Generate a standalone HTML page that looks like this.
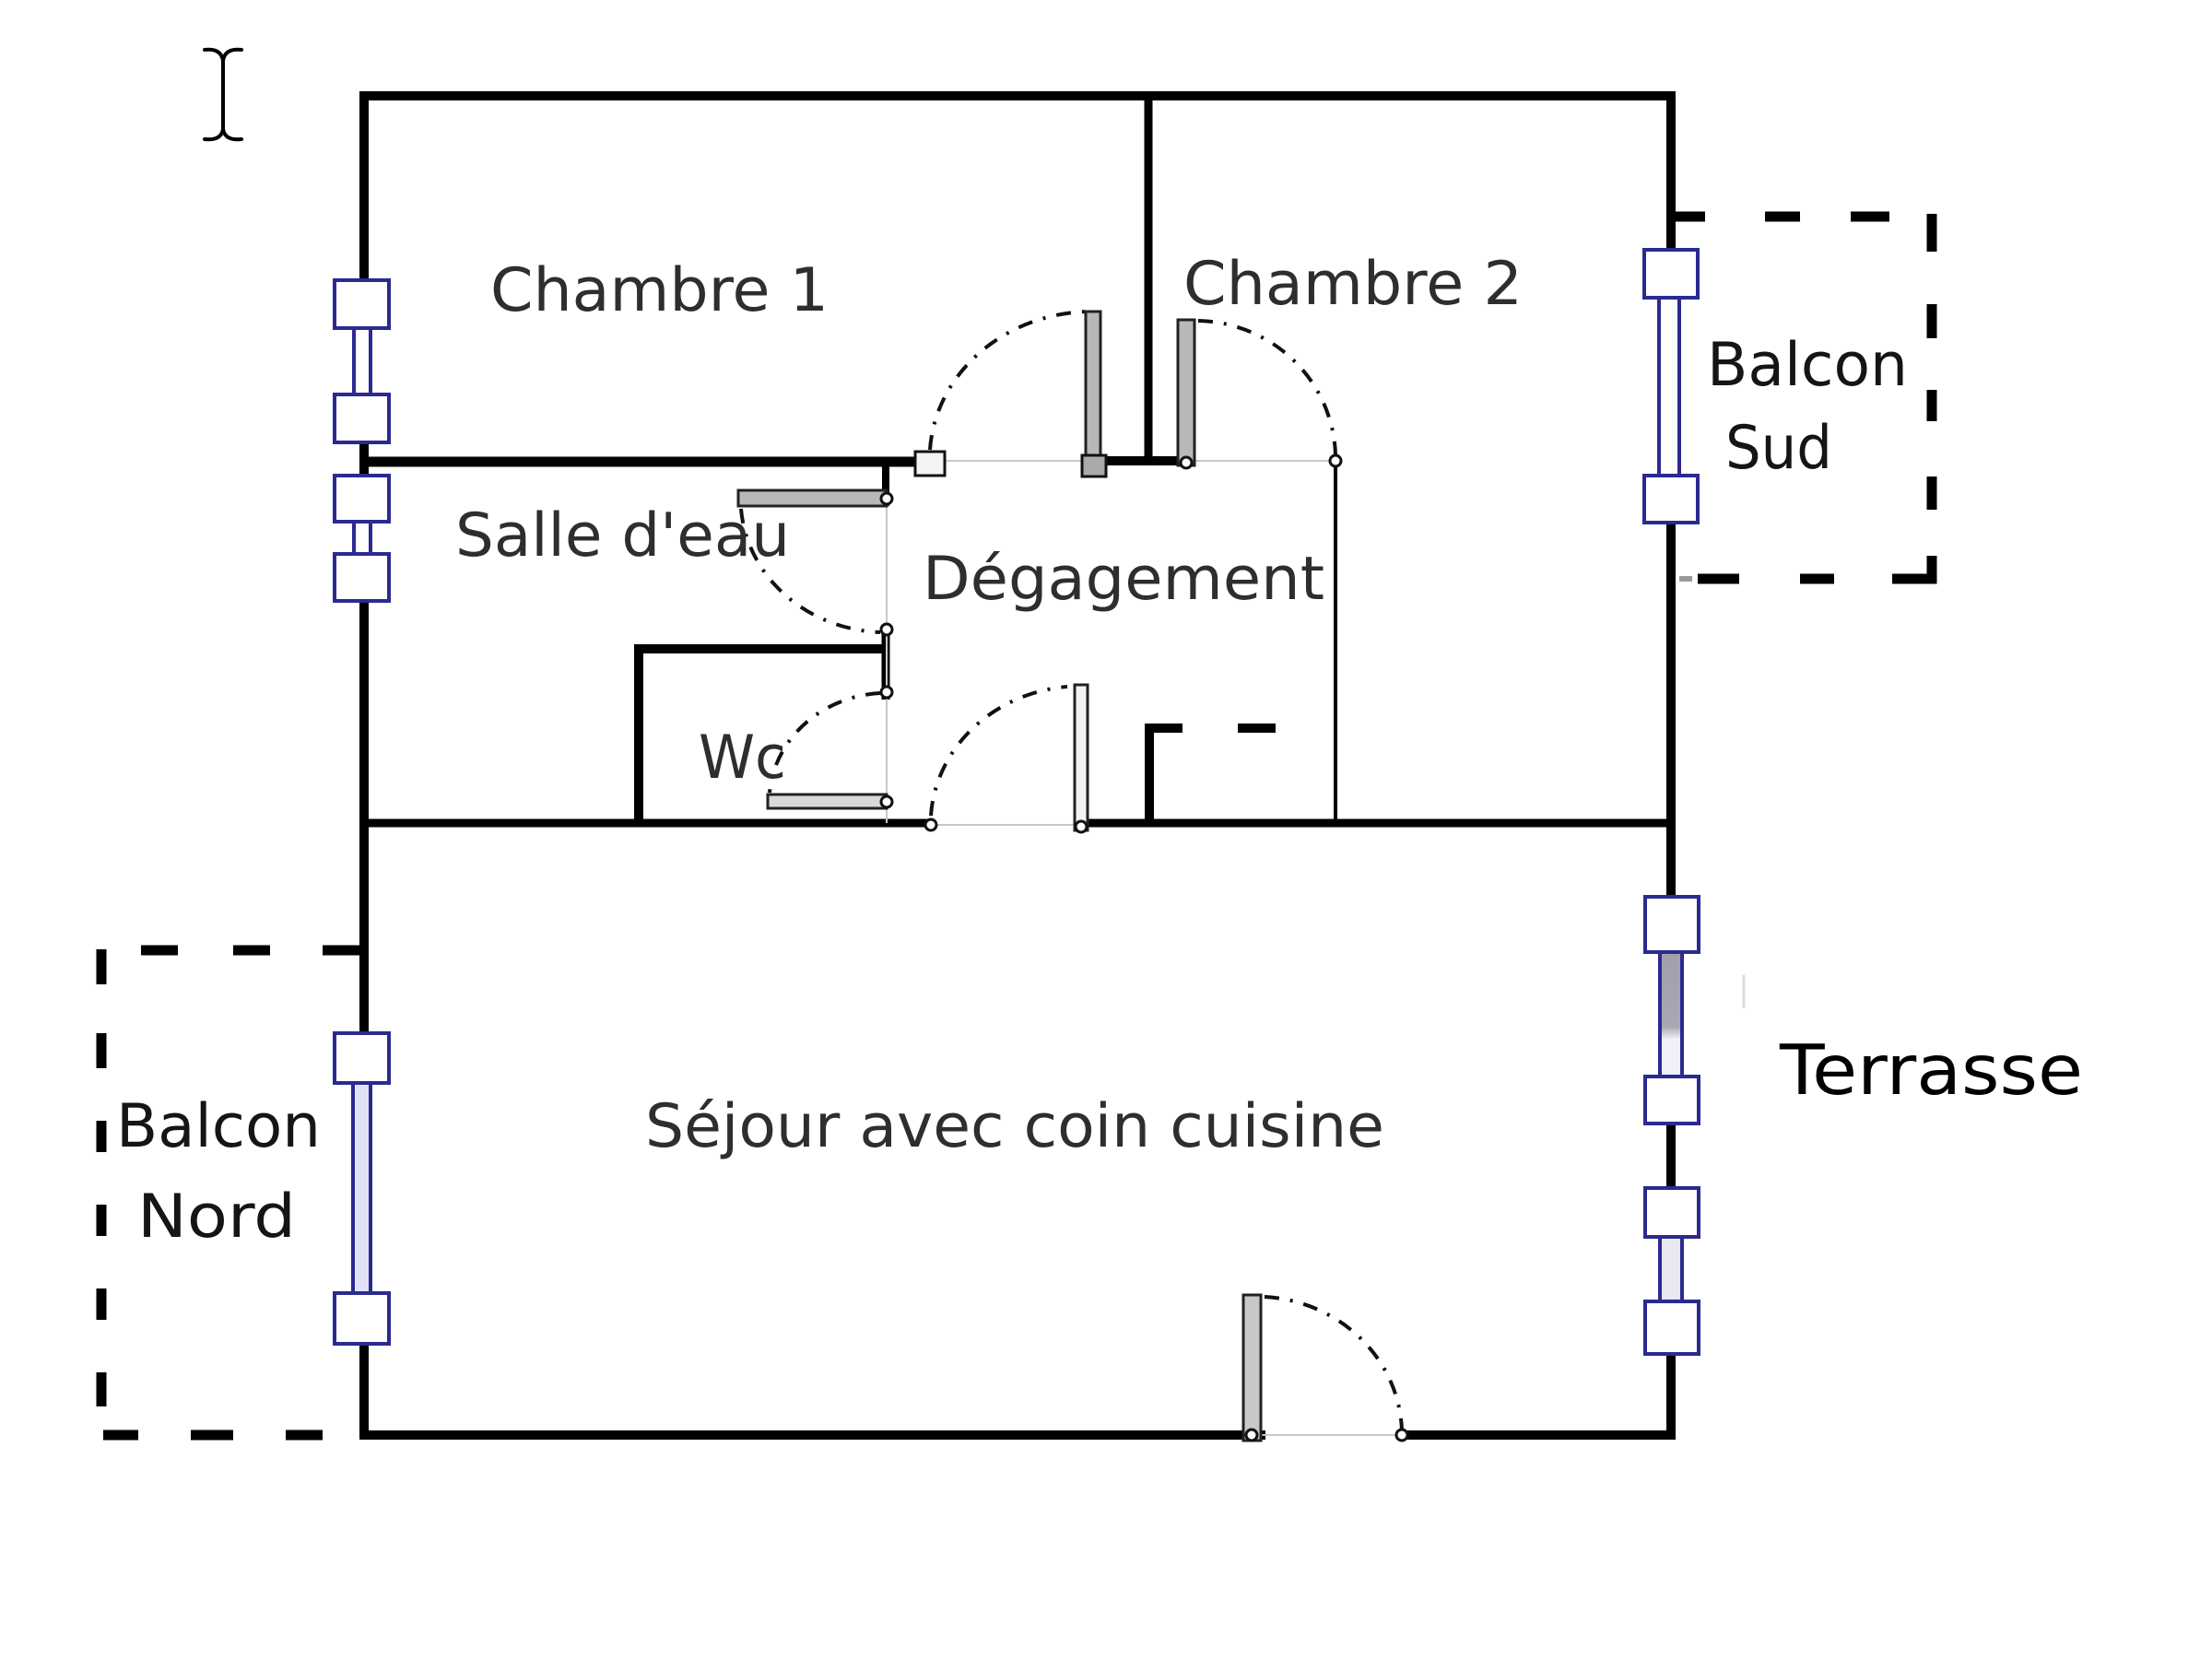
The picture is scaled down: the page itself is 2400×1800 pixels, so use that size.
<!DOCTYPE html>
<html>
<head>
<meta charset="utf-8">
<style>
html,body{margin:0;padding:0;background:#fff;}
svg{display:block;}
text{font-family:"DejaVu Sans","Liberation Sans",sans-serif;}
</style>
</head>
<body>
<svg width="2400" height="1800" viewBox="0 0 2400 1800" xmlns="http://www.w3.org/2000/svg">
<defs>
  <linearGradient id="tg" x1="0" y1="0" x2="0" y2="1">
    <stop offset="0" stop-color="#a0a0ac"/>
    <stop offset="0.6" stop-color="#a8a8b4"/>
    <stop offset="0.7" stop-color="#f0f0f8"/>
    <stop offset="1" stop-color="#f0f0f8"/>
  </linearGradient>
</defs>
<rect width="2400" height="1800" fill="#fff"/>

<!-- cursor I-beam -->
<g fill="none" stroke="#000" stroke-width="4" stroke-linecap="round">
  <path d="M222 54 Q240 52 242 66 Q244 52 262 54"/>
  <path d="M242 66 V140"/>
  <path d="M222 151 Q240 153 242 140 Q244 153 262 151"/>
</g>

<!-- balconies dashed (explicit segments) -->
<g fill="none" stroke="#000" stroke-width="11" stroke-linecap="butt">
  <!-- Sud -->
  <path d="M1818 235 H1850"/>
  <path d="M1915 235 H1953"/>
  <path d="M2008 235 H2050"/>
  <path d="M2096 232 V273"/>
  <path d="M2096 330 V367"/>
  <path d="M2096 423 V457"/>
  <path d="M2096 517 V553"/>
  <path d="M2096 603 V628 H2053"/>
  <path d="M1842 628 H1887"/>
  <path d="M1953 628 H1990"/>
  <!-- Nord -->
  <path d="M153 1031 H193"/>
  <path d="M253 1031 H293"/>
  <path d="M350 1031 H393"/>
  <path d="M110 1030 V1068"/>
  <path d="M110 1121 V1159"/>
  <path d="M110 1216 V1250"/>
  <path d="M110 1307 V1341"/>
  <path d="M110 1398 V1432"/>
  <path d="M110 1489 V1526"/>
  <path d="M112 1557 H150"/>
  <path d="M207 1557 H253"/>
  <path d="M310 1557 H350"/>
</g>
<path d="M1822 628 H1836" stroke="#999" stroke-width="6"/>

<!-- outer walls -->
<g stroke="#000" stroke-width="10" fill="none" stroke-linecap="square">
  <path d="M395 104 H1813 V1557 H1520"/>
  <path d="M1368 1557 H395 V104"/>
</g>

<!-- interior walls -->
<g stroke="#000" fill="none">
  <path d="M1246 104 V500" stroke-width="9"/>
  <path d="M395 501 H992" stroke-width="11"/>
  <path d="M1194 500 H1286" stroke-width="10"/>
  <path d="M395 893 H1010" stroke-width="9"/>
  <path d="M1180 893 H1813" stroke-width="9"/>
  <path d="M693 893 V704 H962" stroke-width="10"/>
  <path d="M961 500 V549" stroke-width="8"/>
  <path d="M961 680 V759" stroke-width="9"/>
  <path d="M1449 500 V893" stroke-width="4"/>
  <path d="M1247 893 V790 H1283" stroke-width="10"/>
  <path d="M1343 790 H1384" stroke-width="10"/>
</g>

<!-- thresholds (thin gray) -->
<g stroke="#c8c8c8" stroke-width="2" fill="none">
  <path d="M1026 500 H1178"/>
  <path d="M1296 500 H1449"/>
  <path d="M962 549 V893"/>
  <path d="M1016 895 H1166"/>
  <path d="M1368 1557 H1520"/>
</g>

<!-- door arcs -->
<g fill="none" stroke="#111" stroke-width="4" stroke-dasharray="16 12 3 12">
  <path d="M1009 488 A177 160 0 0 1 1180 338"/>
  <path d="M1300 348 A152 150 0 0 1 1449 494"/>
  <path d="M804 552 A158 145 0 0 0 955 686"/>
  <path d="M955 752 A128 118 0 0 0 835 860"/>
  <path d="M1010 885 A163 150 0 0 1 1158 745"/>
  <path d="M1372 1407 A158 150 0 0 1 1521 1552"/>
</g>

<!-- door leaves -->
<g stroke="#222" stroke-width="3">
  <rect x="1178" y="338" width="16" height="164" fill="#b8b8b8"/>
  <rect x="1278" y="347" width="18" height="158" fill="#b8b8b8"/>
  <rect x="801" y="532" width="161" height="17" fill="#b8b8b8"/>
  <rect x="833" y="862" width="129" height="15" fill="#d8d8d8"/>
  <rect x="1166" y="743" width="14" height="158" fill="#f2f2f2"/>
  <rect x="1349" y="1405" width="19" height="158" fill="#c8c8c8"/>
</g>

<!-- hinge markers -->
<g stroke="#111" stroke-width="3" fill="#fff">
  <rect x="993" y="490" width="32" height="26" fill="#f4f4f4"/>
  <rect x="1174" y="494" width="26" height="23" fill="#aaa"/>
  <circle cx="1287" cy="502" r="6"/>
  <circle cx="1449" cy="500" r="6"/>
  <circle cx="962" cy="541" r="6"/>
  <circle cx="962" cy="683" r="6"/>
  <circle cx="962" cy="751" r="6"/>
  <circle cx="962" cy="870" r="6"/>
  <circle cx="1010" cy="895" r="6"/>
  <circle cx="1173" cy="897" r="6"/>
  <circle cx="1521" cy="1557" r="6"/>
  <circle cx="1358" cy="1557" r="6"/>
</g>

<!-- windows -->
<g stroke="#2a2a90" stroke-width="4">
  <!-- left: Chambre 1 -->
  <rect x="384" y="356" width="18" height="72" fill="#fff"/>
  <rect x="363" y="304" width="59" height="52" fill="#fff"/>
  <rect x="363" y="428" width="59" height="52" fill="#fff"/>
  <!-- left: Salle d'eau -->
  <rect x="384" y="566" width="18" height="35" fill="#fff"/>
  <rect x="363" y="516" width="59" height="50" fill="#fff"/>
  <rect x="363" y="601" width="59" height="51" fill="#fff"/>
  <!-- left: Nord -->
  <rect x="383" y="1175" width="19" height="228" fill="#e2e2f6"/>
  <rect x="363" y="1121" width="59" height="54" fill="#fff"/>
  <rect x="363" y="1403" width="59" height="55" fill="#fff"/>
  <!-- right: Sud -->
  <rect x="1800" y="323" width="22" height="193" fill="#fff"/>
  <rect x="1784" y="271" width="58" height="52" fill="#fff"/>
  <rect x="1784" y="516" width="58" height="51" fill="#fff"/>
  <!-- right: Terrasse -->
  <rect x="1801" y="1033" width="24" height="135" fill="url(#tg)"/>
  <rect x="1801" y="1342" width="24" height="70" fill="#e8e8f0"/>
  <rect x="1785" y="973" width="58" height="60" fill="#fff"/>
  <rect x="1785" y="1168" width="58" height="51" fill="#fff"/>
  <rect x="1785" y="1289" width="58" height="53" fill="#fff"/>
  <rect x="1785" y="1412" width="58" height="57" fill="#fff"/>
</g>
<path d="M1892 1058 V1094" stroke="#ddd" stroke-width="3"/>

<!-- labels -->
<g fill="#2e2e2e" font-size="65">
  <text x="532" y="337" textLength="367" lengthAdjust="spacingAndGlyphs">Chambre 1</text>
  <text x="1284" y="330" textLength="368" lengthAdjust="spacingAndGlyphs">Chambre 2</text>
  <text x="494" y="603" textLength="363" lengthAdjust="spacingAndGlyphs">Salle d'eau</text>
  <text x="1001" y="650" textLength="436" lengthAdjust="spacingAndGlyphs">Dégagement</text>
  <text x="758" y="844" textLength="95" lengthAdjust="spacingAndGlyphs">Wc</text>
  <text x="700" y="1244" textLength="802" lengthAdjust="spacingAndGlyphs">Séjour avec coin cuisine</text>
</g>
<g fill="#151515" font-size="65">
  <text x="1852" y="418" textLength="218" lengthAdjust="spacingAndGlyphs">Balcon</text>
  <text x="1872" y="508" textLength="116" lengthAdjust="spacingAndGlyphs">Sud</text>
  <text x="126" y="1244" textLength="222" lengthAdjust="spacingAndGlyphs">Balcon</text>
  <text x="149" y="1342" textLength="172" lengthAdjust="spacingAndGlyphs">Nord</text>
</g>
<text x="1931" y="1187" font-size="75" fill="#000" textLength="329" lengthAdjust="spacingAndGlyphs">Terrasse</text>
</svg>
</body>
</html>
